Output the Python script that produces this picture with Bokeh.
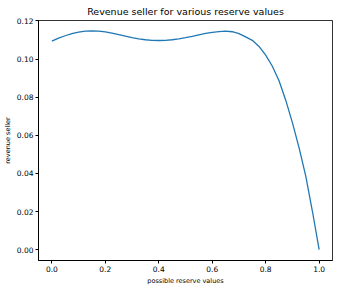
from bokeh.plotting import figure
from bokeh.models import Range1d, FixedTicker, NumeralTickFormatter
from bokeh.embed import file_html
from bokeh.resources import INLINE

reserve = [0.000, 0.025, 0.050, 0.075, 0.100, 0.125, 0.150, 0.175, 0.200,
           0.225, 0.250, 0.275, 0.300, 0.325, 0.350, 0.375, 0.400, 0.425,
           0.450, 0.475, 0.500, 0.525, 0.550, 0.575, 0.600, 0.625, 0.650,
           0.675, 0.700, 0.725, 0.750, 0.775, 0.800, 0.825, 0.850, 0.875,
           0.900, 0.925, 0.950, 0.975, 1.000]
revenue = [0.1094, 0.1110, 0.1122, 0.1133, 0.1141, 0.1146, 0.1148, 0.1146,
           0.1142, 0.1136, 0.1128, 0.1120, 0.1112, 0.1106, 0.1101, 0.1098,
           0.1097, 0.1098, 0.1101, 0.1106, 0.1112, 0.1119, 0.1127, 0.1134,
           0.1140, 0.1144, 0.1146, 0.1143, 0.1133, 0.1116, 0.1098, 0.1066,
           0.1020, 0.0962, 0.0886, 0.0784, 0.0666, 0.0534, 0.0386, 0.0200,
           0.0000]
x_ticks = [0.0, 0.2, 0.4, 0.6, 0.8, 1.0]
y_ticks = [0.00, 0.02, 0.04, 0.06, 0.08, 0.10, 0.12]

p = figure(frame_width=294, frame_height=240, output_backend="svg", toolbar_location=None,
           title="Revenue seller for various reserve values",
           x_range=Range1d(-0.05, 1.05), y_range=Range1d(-0.0057, 0.1202),
           min_border_left=0, min_border_right=1, min_border_top=0, min_border_bottom=0)

p.line(reserve, revenue, line_color="#1f77b4", line_width=1.3)

p.title.align = "center"
p.title.text_font = "DejaVu Sans"
p.title.text_font_size = "9.5px"
p.title.text_font_style = "normal"
p.title.text_color = "black"
p.title.standoff = 7

p.xgrid.visible = False
p.ygrid.visible = False
p.outline_line_color = "black"
p.outline_line_width = 1
p.outline_line_alpha = 0.8

for ax in (p.xaxis[0], p.yaxis[0]):
    ax.axis_line_color = "black"
    ax.major_tick_line_color = "black"
    ax.minor_tick_line_color = None
    ax.major_tick_out = 3
    ax.major_tick_in = 0
    ax.major_label_text_font = "DejaVu Sans"
    ax.major_label_text_font_size = "7.5px"
    ax.major_label_text_color = "black"
    ax.axis_label_text_font = "DejaVu Sans"
    ax.axis_label_text_font_size = "6.5px"
    ax.axis_label_text_font_style = "normal"
    ax.axis_label_text_color = "black"
    ax.axis_label_standoff = 2
    ax.major_label_standoff = 2

p.xaxis.ticker = FixedTicker(ticks=x_ticks)
p.yaxis.ticker = FixedTicker(ticks=y_ticks)
p.xaxis.formatter = NumeralTickFormatter(format="0.0")
p.yaxis.formatter = NumeralTickFormatter(format="0.00")
p.xaxis.axis_label = "possible reserve values"
p.yaxis.axis_label = "revenue seller"

open("out.html", "w").write(file_html(p, INLINE))
